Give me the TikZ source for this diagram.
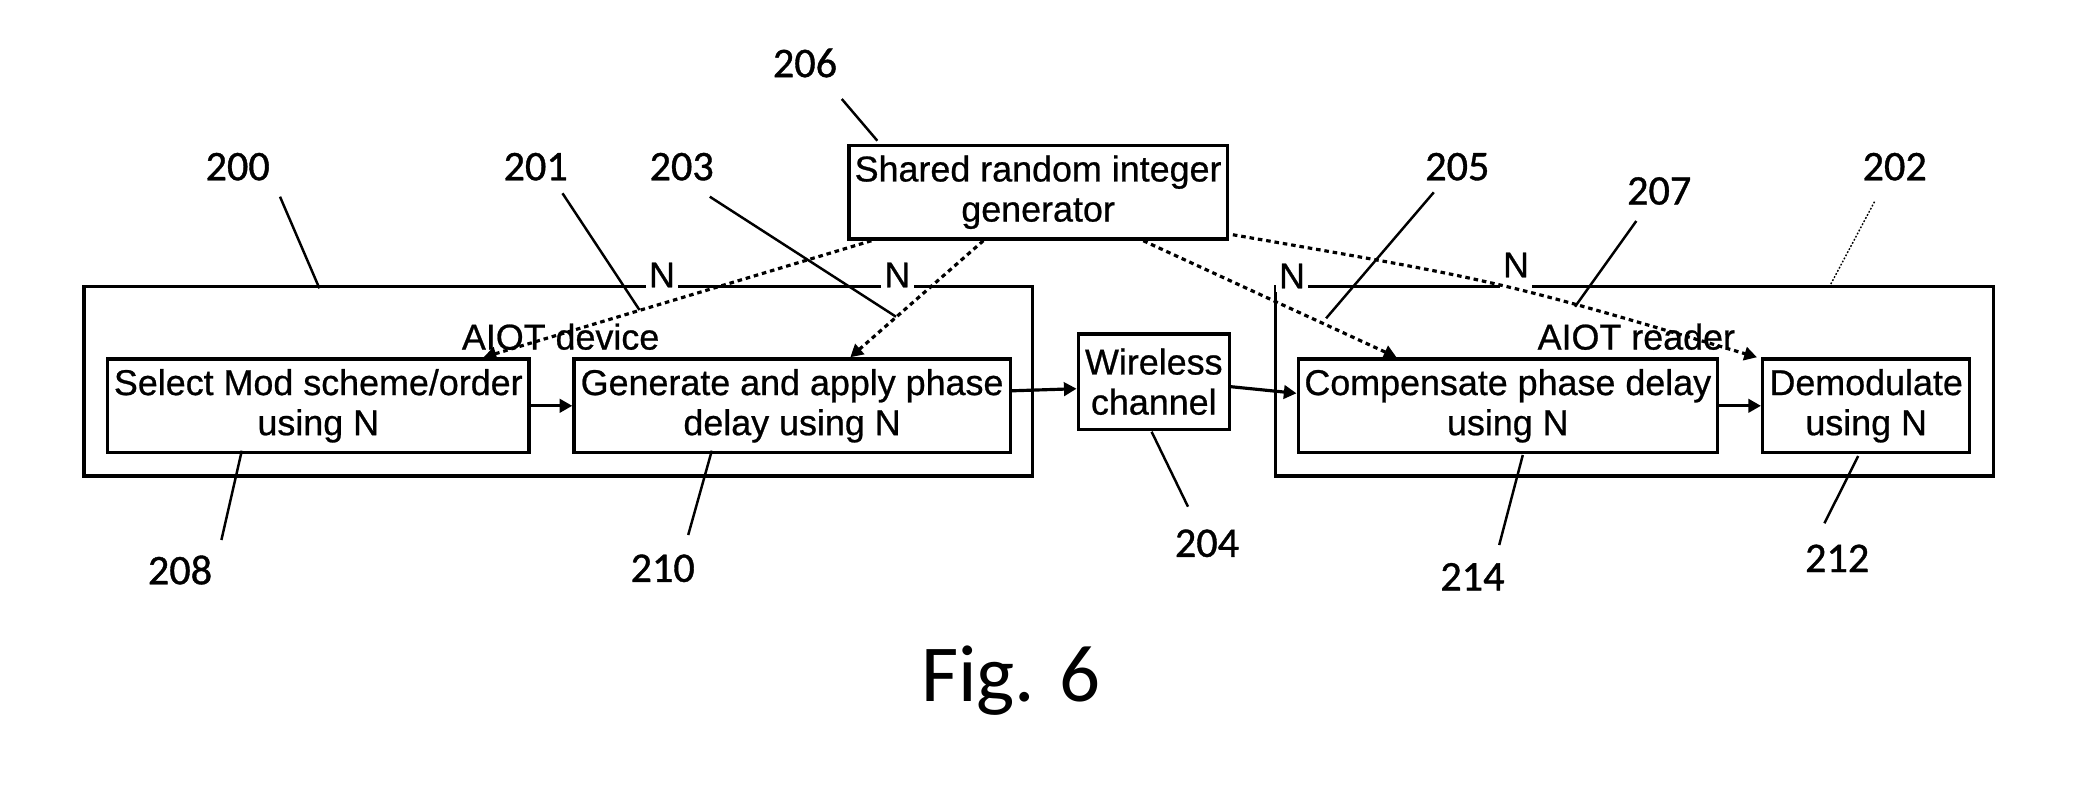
\documentclass[tikz,border=0pt]{standalone}
\usepackage{fontspec}
\setmainfont[FakeBold=0.7]{Liberation Sans}
\newfontfamily\numfont[FakeBold=0.9]{Carlito}
\newfontfamily\figfont{Carlito}
\usetikzlibrary{arrows.meta,calc}

\tikzset{
    blk/.style={draw, line width=0.95pt, inner sep=0pt, align=center,
        font=\fontsize{10.2}{11.4}\selectfont},
    grp/.style={draw, line width=1pt, inner sep=0pt,
        minimum height=1.893cm},
    lbl/.style={inner sep=0pt, font=\fontsize{10.2}{11.4}\selectfont},
    nlab/.style={fill=white, inner sep=1pt, font=\fontsize{10.2}{11.4}\selectfont},
    num/.style={font=\numfont\fontsize{12}{14}\selectfont},
    leader/.style={line width=0.7pt},
    flow/.style={line width=0.9pt, -{Triangle[length=3.6pt,width=3.8pt]}},
    share/.style={line width=0.9pt, dash pattern=on 1.3pt off 1.1pt,
        -{Triangle[length=3.6pt,width=3.8pt]}},
}

\begin{document}
\begin{tikzpicture}[x=0.01cm, y=-0.01cm]
    \useasboundingbox (0,0) rectangle (2075,784);

    % device and reader
    \node [grp, minimum width=9.477cm] (dev) at (558.2,381.4) {};
    \node [grp, minimum width=7.175cm] (rdr) at (1634.6,381.4) {};
    \node [lbl] (devt) at (560.6,336.7) {AIOT device};
    \node [lbl] (rdrt) at (1636.3,336.7) {AIOT reader};

    % N on the top edges
    \node [nlab] (na) at (662,275) {N};
    \node [nlab] (nb) at (897.3,275) {N};
    \node [nlab] (nc) at (1292,276) {N};
    \node [nlab, minimum height=1.4cm] (nd) at (1516,265) {N};

    % blocks
    \node [blk, minimum width=4.21cm, minimum height=0.937cm] (sel) at (318.3,405.8)
        {Select Mod scheme/order\\using N};
    \node [blk, minimum width=4.36cm, minimum height=0.937cm] (gen) at (792.1,405.8)
        {Generate and apply phase\\delay using N};
    \node [blk, minimum width=1.51cm, minimum height=0.953cm] (wch) at (1153.8,381.7)
        {Wireless\\channel};
    \node [blk, minimum width=4.19cm, minimum height=0.937cm] (comp) at (1507.8,405.8)
        {Compensate phase delay\\using N};
    \node [blk, minimum width=2.07cm, minimum height=0.937cm] (demod) at (1866.2,405.8)
        {Demodulate\\using N};
    \node [blk, minimum width=3.78cm, minimum height=0.937cm] (rng) at (1038.1,192.2)
        {Shared random integer\\generator};

    % signal path
    \draw [flow] (sel.east) -- (gen.west);
    \draw [flow] ($(gen.east)+(0,-15)$) -- ($(wch.west)+(0,7)$);
    \draw [flow] ($(wch.east)+(0,5)$) -- ($(comp.west)+(0,-12.5)$);
    \draw [flow] (comp.east) -- (demod.west);

    % shared N
    \draw [share] ($(rng.south west)+(24,0)$) -- ($(sel.north east)+(-47,0)$);
    \draw [share] ($(rng.south west)+(136,0)$) -- ($(gen.north west)+(278,0)$);
    \draw [share] ($(rng.south west)+(296,0)$) -- ($(comp.north west)+(100,0)$);
    \draw [share] ($(rng.south east)+(4,-6)$) .. controls (1500,281) .. ($(demod.north west)+(-4,0)$);

    % reference numerals
    \node [num] (n206) at (805,63) {206};
    \node [num] (n200) at (237.7,166.7) {200};
    \node [num] (n201) at (535.7,166.7) {201};
    \node [num] (n203) at (681.7,166.7) {203};
    \node [num] (n205) at (1457.3,166.7) {205};
    \node [num] (n207) at (1659.2,191) {207};
    \node [num] (n202) at (1894.7,166.7) {202};
    \node [num] (n208) at (180,570) {208};
    \node [num] (n210) at (662.7,568.3) {210};
    \node [num] (n204) at (1207,543.3) {204};
    \node [num] (n214) at (1472.4,576.7) {214};
    \node [num] (n212) at (1837.2,558.3) {212};

\foreach \xa/\ya/\xb/\yb in {841.8/99/877.3/140.7, 280/196.7/319.4/288.3,
        562.5/193.3/639.5/310, 709.8/196.7/896/316.7, 1433.8/192.3/1326.1/318.3,
        1636.3/221/1575/306.7, 241.8/450.7/221.4/540, 711.8/450.7/688.2/535,
        1151.6/431.7/1188/506.7, 1522.8/455/1499.2/545, 1858.2/456/1824.4/523.3}
    \draw [leader] (\xa,\ya) -- (\xb,\yb);
    \draw [line width=0.4pt, dash pattern=on 0.5pt off 0.5pt] (1874.5,201.7) -- (1829.4,286.7);

    \node [font=\figfont\fontsize{23}{28}\selectfont] (fig) at (1011,681) {Fig. 6};
\end{tikzpicture}
\end{document}
